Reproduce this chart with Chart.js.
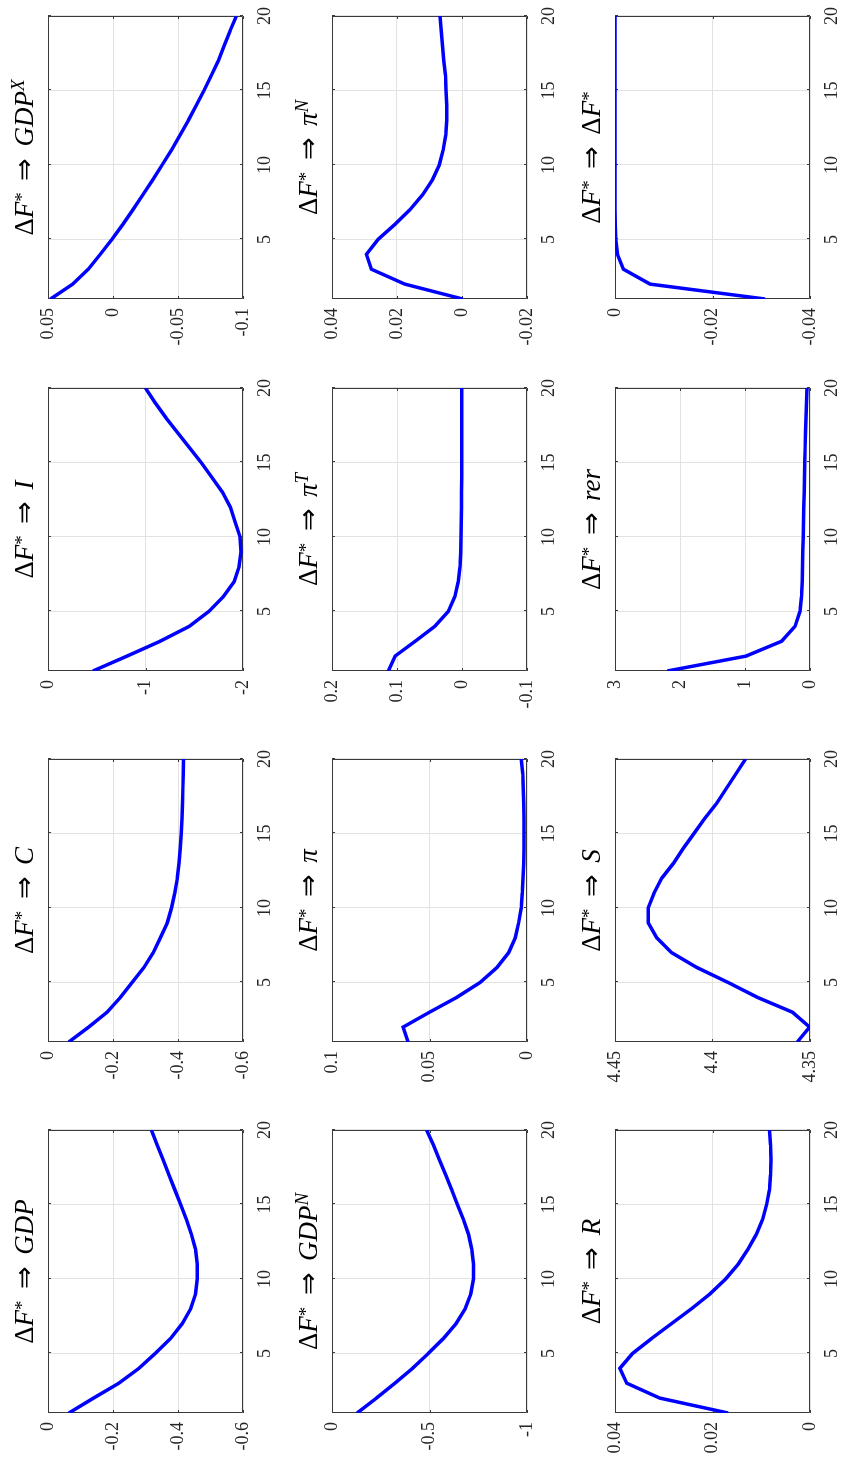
<!DOCTYPE html>
<html>
<head>
<meta charset="utf-8">
<script src="https://cdn.jsdelivr.net/npm/chart.js@4"></script>
<style>
  html, body { margin: 0; padding: 0; background: #fff; }
  body { width: 843px; height: 1473px; overflow: hidden; position: relative; }
  /* the figure is laid out landscape and turned a quarter to the left */
  #sheet { position: absolute; left: 0; top: 0; width: 1473px; height: 843px;
           transform-origin: 0 0; transform: translateY(1473px) rotate(-90deg); }
  .panel { position: absolute; }
</style>
</head>
<body>
<div id="sheet"></div>
<script>
const periods = [1, 2, 3, 4, 5, 6, 7, 8, 9, 10, 11, 12, 13, 14, 15, 16, 17, 18, 19, 20];
const xTicks = [5, 10, 15, 20];

// impulse responses to a shock in F*
const gdp   = [-0.064, -0.14, -0.218, -0.28, -0.33, -0.377, -0.413, -0.439, -0.454, -0.459, -0.459, -0.454, -0.441, -0.426, -0.408, -0.39, -0.372, -0.354, -0.336, -0.318];
const cons  = [-0.064, -0.125, -0.182, -0.223, -0.259, -0.295, -0.324, -0.346, -0.367, -0.38, -0.39, -0.398, -0.403, -0.407, -0.41, -0.412, -0.414, -0.415, -0.416, -0.417];
const inv   = [-0.46, -0.81, -1.15, -1.45, -1.65, -1.8, -1.91, -1.96, -1.98, -1.97, -1.92, -1.87, -1.79, -1.68, -1.57, -1.45, -1.33, -1.21, -1.1, -1.0];
const gdpX  = [0.048, 0.031, 0.019, 0.0098, 0.0008, -0.0075, -0.0154, -0.023, -0.0306, -0.0378, -0.045, -0.0515, -0.058, -0.064, -0.07, -0.0756, -0.081, -0.0855, -0.09, -0.095];
const gdpN  = [-0.129, -0.228, -0.322, -0.413, -0.494, -0.571, -0.636, -0.683, -0.712, -0.726, -0.726, -0.717, -0.7, -0.674, -0.643, -0.614, -0.583, -0.551, -0.52, -0.485];
const infl  = [0.061, 0.0635, 0.05, 0.036, 0.024, 0.0154, 0.0094, 0.006, 0.0043, 0.003, 0.0024, 0.002, 0.0017, 0.0015, 0.0015, 0.0015, 0.0017, 0.0019, 0.0022, 0.003];
const inflT = [0.1135, 0.103, 0.072, 0.042, 0.021, 0.011, 0.0057, 0.003, 0.002, 0.0015, 0.001, 0.0008, 0.0006, 0.0005, 0.0005, 0.0004, 0.0004, 0.0004, 0.0003, 0.0003];
const inflN = [-0.0002, 0.0176, 0.0279, 0.0294, 0.0258, 0.0207, 0.016, 0.0121, 0.0091, 0.007, 0.0058, 0.005, 0.0047, 0.0047, 0.0049, 0.0051, 0.0056, 0.006, 0.0064, 0.0068];
const rate  = [0.0168, 0.0308, 0.0376, 0.039, 0.0364, 0.0325, 0.0284, 0.0243, 0.0205, 0.0173, 0.0147, 0.0127, 0.011, 0.0097, 0.0089, 0.0083, 0.0081, 0.008, 0.0081, 0.0083];
const sVals = [4.3565, 4.3502, 4.359, 4.377, 4.392, 4.408, 4.421, 4.4286, 4.433, 4.433, 4.43, 4.426, 4.42, 4.415, 4.4095, 4.404, 4.398, 4.393, 4.388, 4.383];
const rer   = [2.195, 0.985, 0.436, 0.23, 0.154, 0.13, 0.12, 0.115, 0.11, 0.105, 0.1, 0.095, 0.09, 0.085, 0.08, 0.075, 0.068, 0.06, 0.052, 0.045];
const dF    = [-0.0308, -0.0072, -0.0017, -0.0005, -0.00014, -0.00005, -0.00002, 0, 0, 0, 0, 0, 0, 0, 0, 0, 0, 0, 0, 0];

// y ticks per panel (first and last are the axis limits)
const gdpTicks   = [-0.6, -0.4, -0.2, 0];
const consTicks  = [-0.6, -0.4, -0.2, 0];
const invTicks   = [-2, -1, 0];
const gdpXTicks  = [-0.1, -0.05, 0, 0.05];
const gdpNTicks  = [-1, -0.5, 0];
const inflTicks  = [0, 0.05, 0.1];
const inflTTicks = [-0.1, 0, 0.1, 0.2];
const inflNTicks = [-0.02, 0, 0.02, 0.04];
const rateTicks  = [0, 0.02, 0.04];
const sTicks     = [4.35, 4.4, 4.45];
const rerTicks   = [0, 1, 2, 3];
const dFTicks    = [-0.04, -0.02, 0];

// panel titles: variable and its superscript
const panelVars = ['GDP', 'C', 'I', 'GDP', 'GDP', 'π', 'π', 'π', 'R', 'S', 'rer', 'ΔF'];
const panelSups = ['', '', '', 'X', 'N', '', 'T', 'N', '', '', '', '*'];

const panelSeries = [gdp, cons, inv, gdpX, gdpN, infl, inflT, inflN, rate, sVals, rer, dF];
const panelTicks = [gdpTicks, consTicks, invTicks, gdpXTicks, gdpNTicks, inflTicks, inflTTicks, inflNTicks, rateTicks, sTicks, rerTicks, dFTicks];

const colLeft = [60, 431, 802, 1174];
const rowTop = [48, 332, 615];
const plotW = 283, plotH = 195;
const padTop = 48, padRight = 25, yAxisW = 70, xAxisH = 40;

const serif = "'Liberation Serif', 'Times New Roman', serif";
const axisColor = '#3a3a3a';
const textColor = '#262626';

// box round the plot area with small inward ticks on every side
const boxPlugin = {
  id: 'box',
  beforeDatasetsDraw(chart) {
    const { ctx, chartArea: a, scales: { x, y } } = chart;
    ctx.save();
    ctx.strokeStyle = axisColor;
    ctx.lineWidth = 1;
    ctx.beginPath();
    ctx.rect(a.left + 0.5, a.top + 0.5, a.width - 1, a.height - 1);
    x.ticks.forEach(t => {
      const p = Math.round(x.getPixelForValue(t.value)) + 0.5;
      ctx.moveTo(p, a.bottom); ctx.lineTo(p, a.bottom - 3);
      ctx.moveTo(p, a.top); ctx.lineTo(p, a.top + 3);
    });
    y.ticks.forEach(t => {
      const p = Math.round(y.getPixelForValue(t.value)) + 0.5;
      ctx.moveTo(a.left, p); ctx.lineTo(a.left + 3, p);
      ctx.moveTo(a.right, p); ctx.lineTo(a.right - 3, p);
    });
    ctx.stroke();
    ctx.restore();
  }
};

function titleParts(v, sup) {
  const parts = [
    { t: 'Δ', it: false, s: 1, dy: 0 },
    { t: 'F', it: true, s: 1, dy: 0 },
    { t: '*', it: false, s: 0.7, dy: 0.2 },
    { gap: 0.42 },
    { t: '⇒', it: false, s: 1, dy: 0 },
    { gap: 0.42 }
  ];
  let name = v;
  if (name.startsWith('Δ')) {
    parts.push({ t: 'Δ', it: false, s: 1, dy: 0 });
    name = name.slice(1);
  }
  parts.push({ t: name, it: true, s: 1, dy: 0 });
  if (sup === '*') parts.push({ t: '*', it: false, s: 0.7, dy: 0.2 });
  else if (sup) parts.push({ t: sup, it: true, s: 0.7, dy: 0.33 });
  return parts;
}

const titlePlugin = {
  id: 'mathTitle',
  afterDraw(chart) {
    const { ctx, chartArea: a } = chart;
    const i = chart.options.plugins.mathTitle.index;
    const size = 27;
    const parts = titleParts(panelVars[i], panelSups[i]);
    ctx.save();
    ctx.fillStyle = '#000';
    ctx.textBaseline = 'alphabetic';
    ctx.textAlign = 'left';
    const fontOf = p => (p.it ? 'italic ' : '') + Math.round(size * p.s) + 'px ' + serif;
    let total = 0;
    parts.forEach(p => {
      if (p.gap) { p.w = p.gap * size; }
      else { ctx.font = fontOf(p); p.w = ctx.measureText(p.t).width; }
      total += p.w;
    });
    let xPos = (a.left + a.right) / 2 - total / 2;
    const base = a.top - 15;
    parts.forEach(p => {
      if (!p.gap) {
        ctx.font = fontOf(p);
        ctx.fillText(p.t, xPos, base - p.dy * size);
      }
      xPos += p.w;
    });
    ctx.restore();
  }
};

const sheet = document.getElementById('sheet');

panelSeries.forEach((series, i) => {
  const row = Math.floor(i / 4), col = i % 4;
  const ticks = panelTicks[i];
  const box = document.createElement('div');
  box.className = 'panel';
  const w = yAxisW + plotW + padRight, h = padTop + plotH + xAxisH;
  box.style.left = (colLeft[col] - yAxisW) + 'px';
  box.style.top = (rowTop[row] - padTop) + 'px';
  box.style.width = w + 'px';
  box.style.height = h + 'px';
  const canvas = document.createElement('canvas');
  canvas.width = w;
  canvas.height = h;
  box.appendChild(canvas);
  sheet.appendChild(box);

  new Chart(canvas.getContext('2d'), {
    type: 'line',
    data: {
      labels: periods,
      datasets: [{
        data: periods.map((p, k) => ({ x: p, y: series[k] })),
        borderColor: '#0000ff',
        borderWidth: 3.5,
        pointRadius: 0,
        tension: 0,
        fill: false
      }]
    },
    options: {
      responsive: false,
      animation: false,
      devicePixelRatio: 1,
      layout: { padding: { top: padTop, right: padRight, left: 0, bottom: 0 } },
      plugins: {
        legend: { display: false },
        tooltip: { enabled: false },
        mathTitle: { index: i }
      },
      scales: {
        x: {
          type: 'linear',
          min: 1,
          max: 20,
          afterBuildTicks: s => { s.ticks = xTicks.map(v => ({ value: v })); },
          afterFit: s => { s.height = xAxisH; },
          grid: { color: '#e2e2e2', drawTicks: false },
          border: { display: false },
          ticks: {
            color: textColor,
            padding: 11,
            maxRotation: 0,
            font: { family: serif, size: 18 },
            callback: v => String(v)
          }
        },
        y: {
          type: 'linear',
          min: ticks[0],
          max: ticks[ticks.length - 1],
          afterBuildTicks: s => { s.ticks = ticks.map(v => ({ value: v })); },
          afterFit: s => { s.width = yAxisW; },
          grid: { color: '#e2e2e2', drawTicks: false },
          border: { display: false },
          ticks: {
            color: textColor,
            padding: 9,
            font: { family: serif, size: 18 },
            callback: v => String(v)
          }
        }
      }
    },
    plugins: [boxPlugin, titlePlugin]
  });
});
</script>
</body>
</html>
